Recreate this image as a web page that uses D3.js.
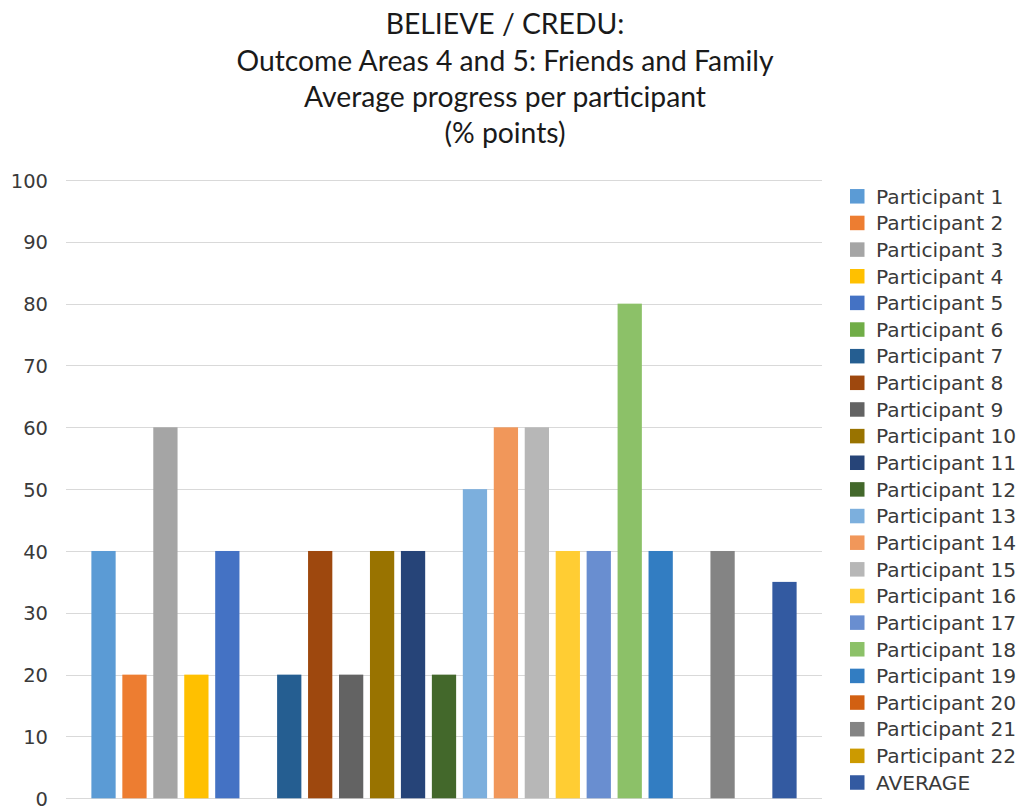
<!DOCTYPE html>
<html>
<head>
<meta charset="utf-8">
<script src="https://cdn.jsdelivr.net/npm/d3@7"></script>
<style>
  html, body { margin: 0; padding: 0; background: #ffffff; }
  svg { display: block; }
</style>
</head>
<body>
<svg id="chart" width="1019" height="807"></svg>
<script>
// Chart title, one entry per line
const titleLines = [
  "BELIEVE / CREDU:",
  "Outcome Areas 4 and 5: Friends and Family",
  "Average progress per participant",
  "(% points)"
];

// Series (one bar each) and their values, in % points
const seriesNames = [
  "Participant 1", "Participant 2", "Participant 3", "Participant 4",
  "Participant 5", "Participant 6", "Participant 7", "Participant 8",
  "Participant 9", "Participant 10", "Participant 11", "Participant 12",
  "Participant 13", "Participant 14", "Participant 15", "Participant 16",
  "Participant 17", "Participant 18", "Participant 19", "Participant 20",
  "Participant 21", "Participant 22", "AVERAGE"
];
const seriesValues = [
  40, 20, 60, 20,
  40, 0, 20, 40,
  20, 40, 40, 20,
  50, 60, 60, 40,
  40, 80, 40, 0,
  40, 0, 35
];

// Office-style series palette
const seriesColors = [
  "#5B9BD5", "#ED7D31", "#A5A5A5", "#FFC000", "#4472C4", "#70AD47",
  "#255E91", "#9E480E", "#636363", "#997300", "#264478", "#43682B",
  "#7CAFDD", "#F1975A", "#B7B7B7", "#FFCD33", "#698ED0", "#8CC168",
  "#327DC2", "#D26012", "#848484", "#CC9A00", "#335AA1"
];

// Value axis ticks
const yTicks = [0, 10, 20, 30, 40, 50, 60, 70, 80, 90, 100];

const data = seriesNames.map((name, i) => ({ name, value: seriesValues[i], color: seriesColors[i] }));

const svg = d3.select("#chart");

const plot = { left: 66, right: 822, top: 180, bottom: 798.3 };

const x = d3.scaleBand()
  .domain(seriesNames)
  .range([plot.left, plot.right])
  .paddingInner(0.216)
  .paddingOuter(0.82);

const y = d3.scaleLinear()
  .domain([0, 100])
  .range([plot.bottom, plot.top]);

// Title
const title = svg.append("g")
  .attr("font-family", "Lato, 'Noto Sans', sans-serif")
  .attr("font-size", 28.3)
  .attr("fill", "#1a1a1a")
  .attr("text-anchor", "middle");
title.selectAll("text")
  .data(titleLines)
  .join("text")
  .attr("x", 505)
  .attr("y", (d, i) => 34.3 + i * 36.3)
  .text(d => d);

// Gridlines
svg.append("g")
  .selectAll("line")
  .data(yTicks)
  .join("line")
  .attr("x1", plot.left)
  .attr("x2", plot.right)
  .attr("y1", d => Math.round(y(d)) + 0.5)
  .attr("y2", d => Math.round(y(d)) + 0.5)
  .attr("stroke", "#d9d9d9")
  .attr("stroke-width", 1);

// Value axis labels
const yAxis = d3.axisLeft(y).tickValues(yTicks).tickSize(0).tickPadding(0);
const yAxisG = svg.append("g")
  .attr("transform", "translate(48,0)")
  .call(yAxis);
yAxisG.select(".domain").remove();
yAxisG.selectAll("text")
  .attr("font-family", "'DejaVu Sans', sans-serif")
  .attr("font-size", 19.5)
  .attr("fill", "#3a3a3a")
  .attr("dy", "0.36em");

// Bars
svg.append("g")
  .selectAll("rect")
  .data(data)
  .join("rect")
  .attr("x", d => x(d.name))
  .attr("width", x.bandwidth())
  .attr("y", d => y(d.value))
  .attr("height", d => y(0) - y(d.value))
  .attr("fill", d => d.color);

// Legend
const legendY = d3.scalePoint()
  .domain(seriesNames)
  .range([196.3, 782.5]);

const legend = svg.append("g")
  .selectAll("g")
  .data(data)
  .join("g")
  .attr("transform", d => `translate(850,${legendY(d.name)})`);
legend.append("rect")
  .attr("x", 0)
  .attr("y", -7.25)
  .attr("width", 14.5)
  .attr("height", 14.5)
  .attr("fill", d => d.color);
legend.append("text")
  .attr("x", 26)
  .attr("y", 0)
  .attr("dy", "0.36em")
  .attr("font-family", "'DejaVu Sans', sans-serif")
  .attr("font-size", 20.2)
  .attr("fill", "#3a3a3a")
  .text(d => d.name);
</script>
</body>
</html>
